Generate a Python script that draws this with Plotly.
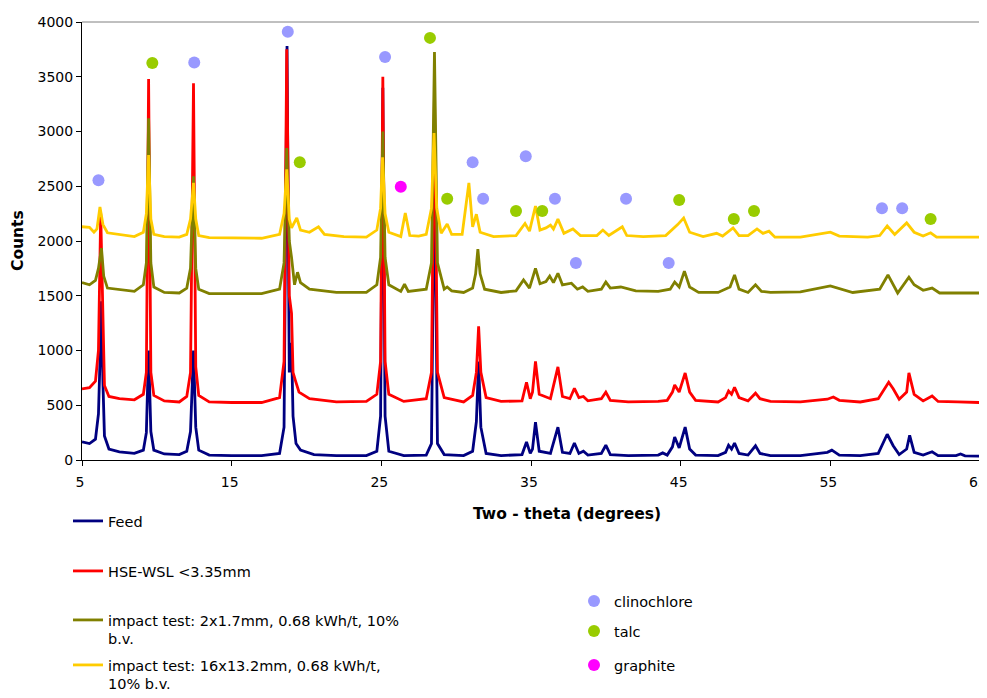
import plotly.graph_objects as go

# series (two-theta, counts)
feed_x = [5.0, 5.5, 5.9, 6.1, 6.2, 6.3, 6.4, 6.5, 6.8, 7.5, 8.5, 9.1, 9.3, 9.45, 9.6, 9.8, 10.5, 11.5, 12.0, 12.25, 12.45, 12.6, 12.8, 13.5, 15, 17, 18.2, 18.5, 18.7, 18.85, 19.0, 19.1, 19.3, 19.6, 20.5, 22, 24, 24.7, 24.95, 25.1, 25.25, 25.5, 26.5, 28, 28.35, 28.55, 28.75, 29.2, 30.5, 31.1, 31.35, 31.5, 31.65, 32, 33, 34.4, 34.7, 34.95, 35.1, 35.3, 35.55, 36.3, 36.8, 37.1, 37.6, 37.9, 38.2, 38.5, 38.8, 39.7, 40.0, 40.3, 41.5, 43.5, 43.8, 44.1, 44.45, 44.6, 44.9, 45.3, 45.6, 46, 47.5, 48.0, 48.2, 48.4, 48.6, 48.9, 49.5, 50.0, 50.3, 51, 53, 54.8, 55.1, 55.6, 57, 58.2, 58.8, 59.2, 59.6, 60.1, 60.3, 60.6, 61.2, 61.8, 62.2, 63.4, 63.7, 64, 65]
feed_y = [165, 150, 190, 420, 900, 1450, 700, 220, 100, 75, 60, 90, 250, 1000, 260, 90, 55, 50, 80, 260, 1000, 300, 90, 45, 40, 40, 60, 300, 3780, 800, 1070, 400, 150, 90, 50, 40, 40, 80, 400, 3400, 400, 80, 40, 45, 150, 2800, 150, 50, 40, 80, 350, 900, 300, 60, 40, 50, 165, 60, 100, 345, 80, 60, 300, 70, 60, 155, 60, 80, 45, 60, 135, 50, 40, 45, 65, 45, 120, 210, 110, 300, 100, 45, 40, 70, 135, 100, 155, 60, 45, 130, 60, 40, 40, 70, 90, 45, 40, 60, 235, 130, 50, 100, 225, 70, 45, 75, 40, 40, 55, 38, 35]

hse_x = [5.0, 5.5, 5.9, 6.1, 6.25, 6.35, 6.5, 6.8, 7.5, 8.5, 9.1, 9.3, 9.45, 9.6, 9.8, 10.5, 11.5, 12.0, 12.25, 12.45, 12.6, 12.8, 13.5, 15, 17, 18.2, 18.5, 18.68, 18.85, 19.0, 19.1, 19.25, 19.5, 20.2, 22, 24, 24.7, 24.95, 25.1, 25.25, 25.5, 26.5, 28, 28.35, 28.55, 28.75, 29.2, 30.5, 31.1, 31.35, 31.5, 31.65, 32, 33, 34.4, 34.7, 34.95, 35.1, 35.3, 35.55, 36.3, 36.8, 37.1, 37.6, 37.9, 38.2, 38.5, 38.8, 39.7, 40.0, 40.3, 41.5, 43.5, 44.1, 44.45, 44.6, 44.9, 45.3, 45.6, 46, 47.5, 48.0, 48.2, 48.4, 48.6, 48.9, 49.5, 50.0, 50.3, 51, 53, 54.8, 55.2, 55.6, 57, 58.2, 58.9, 59.2, 59.6, 60.1, 60.25, 60.6, 61.2, 61.8, 62.2, 63.5, 65]
hse_y = [650, 660, 720, 1000, 2250, 1500, 680, 580, 560, 550, 600, 800, 3480, 800, 590, 540, 530, 580, 800, 3440, 850, 590, 530, 525, 525, 570, 900, 3750, 1500, 1340, 800, 730, 620, 560, 530, 535, 600, 900, 3500, 900, 600, 535, 560, 800, 3350, 800, 570, 530, 590, 800, 1220, 800, 570, 535, 540, 710, 560, 620, 900, 600, 560, 850, 580, 560, 655, 570, 580, 540, 560, 620, 545, 530, 535, 545, 620, 685, 620, 795, 620, 545, 530, 570, 630, 600, 665, 570, 540, 610, 560, 535, 530, 555, 575, 545, 530, 560, 710, 650, 555, 620, 795, 600, 540, 585, 535, 530, 525]

imp2_x = [5.0, 5.5, 5.9, 6.1, 6.3, 6.45, 6.7, 7.5, 8.5, 9.1, 9.3, 9.45, 9.6, 9.8, 10.5, 11.5, 12.0, 12.25, 12.45, 12.6, 12.8, 13.5, 15, 17, 18.2, 18.5, 18.68, 18.85, 19.0, 19.2, 19.4, 19.6, 20.2, 22, 24, 24.7, 24.95, 25.1, 25.25, 25.5, 26.3, 26.55, 26.8, 28, 28.35, 28.55, 28.75, 29.2, 29.4, 29.7, 30.5, 31.1, 31.3, 31.45, 31.6, 31.9, 33, 34.0, 34.5, 34.9, 35.3, 35.6, 36.0, 36.25, 36.5, 36.8, 37.1, 37.7, 38.1, 38.45, 38.8, 39.7, 40.0, 40.3, 41.0, 42, 43.5, 44.3, 44.6, 44.9, 45.25, 45.6, 46.2, 47.5, 48.3, 48.6, 48.9, 49.5, 50.0, 50.4, 51, 53, 55.0, 55.5, 56.5, 58.3, 58.85, 59.5, 60.25, 60.6, 61.2, 61.8, 62.3, 63.5, 65]
imp2_y = [1620, 1600, 1640, 1750, 1935, 1680, 1570, 1555, 1540, 1600, 1800, 3120, 1800, 1580, 1530, 1525, 1570, 1750, 2590, 1750, 1560, 1520, 1520, 1520, 1560, 1800, 2850, 2000, 1850, 1600, 1715, 1620, 1560, 1530, 1530, 1600, 1850, 3000, 1850, 1600, 1540, 1605, 1540, 1560, 1800, 3725, 1800, 1560, 1580, 1545, 1530, 1570, 1700, 1925, 1700, 1560, 1530, 1545, 1645, 1570, 1750, 1610, 1630, 1680, 1620, 1705, 1600, 1615, 1560, 1580, 1540, 1560, 1625, 1570, 1580, 1545, 1540, 1560, 1625, 1580, 1725, 1580, 1530, 1530, 1580, 1690, 1560, 1530, 1600, 1540, 1530, 1535, 1590, 1570, 1530, 1560, 1690, 1525, 1670, 1600, 1550, 1570, 1525, 1525, 1525]

imp16_x = [5.0, 5.5, 5.8, 6.0, 6.2, 6.4, 6.7, 7.5, 8.5, 9.1, 9.3, 9.45, 9.6, 9.8, 10.5, 11.5, 12.0, 12.25, 12.45, 12.6, 12.8, 13.5, 15, 17, 18.2, 18.5, 18.68, 18.85, 19.0, 19.35, 19.6, 20.2, 20.8, 21.2, 22.5, 24, 24.7, 24.95, 25.08, 25.25, 25.5, 26.3, 26.6, 26.9, 27.5, 28.0, 28.35, 28.52, 28.7, 29.0, 29.4, 29.7, 30.4, 30.85, 31.1, 31.35, 31.6, 32.5, 34, 34.6, 34.9, 35.3, 35.6, 36.0, 36.3, 36.5, 36.8, 37.2, 37.8, 38.3, 39.4, 39.8, 40.2, 41.1, 41.4, 42.5, 44.0, 44.8, 45.2, 45.6, 46.5, 47.4, 47.8, 48.5, 48.9, 49.5, 50.1, 50.5, 50.9, 51.3, 53, 55.0, 55.6, 57.5, 58.3, 58.8, 59.3, 60.1, 60.6, 61.2, 61.7, 62.1, 63.5, 65]
imp16_y = [2130, 2125, 2080, 2110, 2310, 2150, 2075, 2060, 2040, 2080, 2250, 2785, 2200, 2060, 2040, 2035, 2060, 2200, 2530, 2200, 2050, 2030, 2025, 2025, 2060, 2250, 2655, 2200, 2120, 2210, 2100, 2080, 2130, 2060, 2040, 2035, 2100, 2300, 2765, 2250, 2080, 2040, 2255, 2050, 2045, 2060, 2300, 2985, 2300, 2070, 2155, 2060, 2060, 2530, 2130, 2245, 2080, 2040, 2050, 2160, 2090, 2320, 2100, 2120, 2145, 2110, 2200, 2070, 2110, 2050, 2050, 2100, 2050, 2130, 2050, 2040, 2050, 2150, 2210, 2080, 2040, 2070, 2045, 2120, 2050, 2050, 2110, 2070, 2090, 2035, 2035, 2080, 2045, 2035, 2050, 2137, 2060, 2165, 2080, 2045, 2075, 2035, 2035, 2035]

# phase markers
clino_x = [6.1, 12.5, 18.75, 25.25, 31.1, 31.8, 34.65, 36.6, 38.0, 41.35, 44.2, 58.45, 59.8]
clino_y = [2555, 3630, 3910, 3680, 2720, 2385, 2775, 2385, 1800, 2385, 1800, 2300, 2300]
talc_x = [9.7, 19.55, 28.25, 29.4, 34.0, 35.75, 44.9, 48.55, 49.9, 61.7]
talc_y = [3625, 2720, 3855, 2385, 2275, 2275, 2375, 2200, 2275, 2200]
graph_x = [26.3]
graph_y = [2495]

# the page body has an 8px margin, so the figure is drawn at (8, 8);
# 682 high keeps the page from scrolling
W, H = 979, 682

series = [
    ("Feed", feed_x, feed_y, "#000080", "legend", 497),
    ("HSE-WSL <3.35mm", hse_x, hse_y, "#FF0000", "legend2", 547),
    ("impact test: 2x1.7mm, 0.68 kWh/t, 10%<br>b.v.", imp2_x, imp2_y, "#808000", "legend3", 596),
    ("impact test: 16x13.2mm, 0.68 kWh/t,<br>10% b.v.", imp16_x, imp16_y, "#FFCC00", "legend4", 641),
]
phases = [
    ("clinochlore", clino_x, clino_y, "#9999FF", "legend5", 577),
    ("talc", talc_x, talc_y, "#99CC00", "legend6", 607),
    ("graphite", graph_x, graph_y, "#FF00FF", "legend7", 641),
]

fig = go.Figure()
legends = {}
for name, xs, ys, col, leg, top in series:
    fig.add_trace(go.Scatter(x=xs, y=ys, mode="lines", name=name, legend=leg,
                             line=dict(color=col, width=2.8)))
    legends[leg] = dict(x=60 / W, y=1 - top / H, xref="container", yref="container",
                        xanchor="left", yanchor="top", valign="top", itemwidth=30,
                        font=dict(size=14.5), bgcolor="rgba(0,0,0,0)", visible=True)

for name, xs, ys, col, leg, top in phases:
    fig.add_trace(go.Scatter(x=xs, y=ys, mode="markers", name=name, legend=leg,
                             marker=dict(color=col, size=12, symbol="circle")))
    legends[leg] = dict(x=566 / W, y=1 - top / H, xref="container", yref="container",
                        xanchor="left", yanchor="top", itemwidth=30,
                        font=dict(size=14.5), bgcolor="rgba(0,0,0,0)", visible=True)

fig.update_layout(
    width=W, height=H, showlegend=True,
    margin=dict(l=74, r=7, t=14, b=230, autoexpand=False),
    paper_bgcolor="white", plot_bgcolor="white",
    font=dict(family="DejaVu Sans", size=14, color="black"),
    xaxis=dict(range=[5, 65], tickvals=[5, 15, 25, 35, 45, 55, 65], showgrid=False,
               zeroline=False, showline=True, linecolor="black", linewidth=1,
               ticks="outside", ticklen=5, tickcolor="black", ticklabelstandoff=4,
               ticklabelshift=-2, ticklabeloverflow="allow"),
    yaxis=dict(range=[0, 4000], dtick=500, showgrid=False, zeroline=False, showline=True,
               linecolor="black", linewidth=1, ticks="outside", ticklen=5, tickcolor="black"),
    annotations=[
        dict(text="<b>Two - theta (degrees)</b>", x=0.54, y=(460 - 514) / 438,
             xref="paper", yref="paper", yanchor="middle", showarrow=False,
             font=dict(size=15.5)),
        dict(text="<b>Counts</b>", x=(18 - 82) / 898, y=0.5, xref="paper", yref="paper",
             xanchor="center", yanchor="middle", textangle=-90, showarrow=False,
             font=dict(size=15.5)),
    ],
    shapes=[dict(type="line", xref="paper", yref="paper", x0=0, x1=1, y0=1, y1=1,
                 line=dict(color="#808080", width=1)),
            dict(type="line", xref="paper", yref="paper", x0=1, x1=1, y0=0, y1=1,
                 line=dict(color="#808080", width=1))],
    **legends,
)

fig.write_html("out.html")
